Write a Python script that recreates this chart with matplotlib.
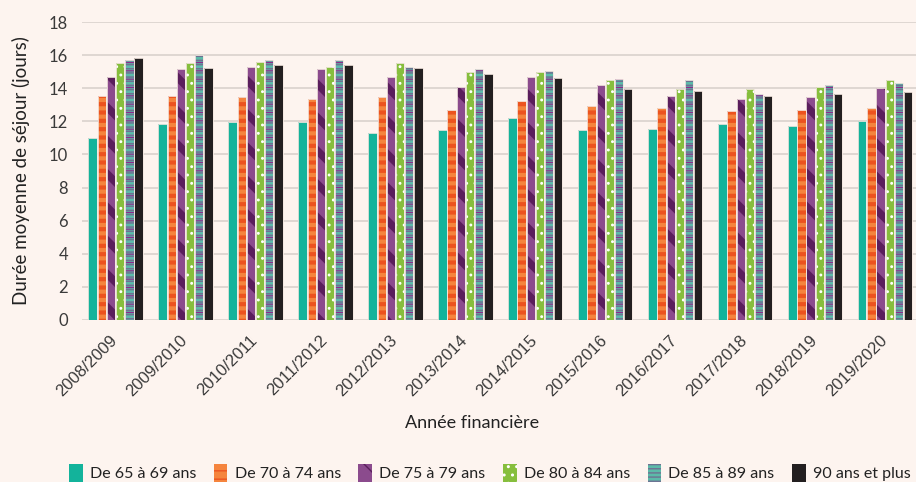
import matplotlib as mpl
import matplotlib.pyplot as plt
import matplotlib.transforms as mtransforms
import numpy as np
from matplotlib.patches import Patch

years = ["2008/2009", "2009/2010", "2010/2011", "2011/2012", "2012/2013",
         "2013/2014", "2014/2015", "2015/2016", "2016/2017", "2017/2018",
         "2018/2019", "2019/2020"]
groups = ["De 65 à 69 ans", "De 70 à 74 ans", "De 75 à 79 ans",
          "De 80 à 84 ans", "De 85 à 89 ans", "90 ans et plus"]

age_65_69 = [11.0, 11.85, 11.95, 11.95, 11.3, 11.5, 12.2, 11.5, 11.55, 11.85, 11.7, 12.05]
age_70_74 = [13.55, 13.55, 13.45, 13.35, 13.45, 12.7, 13.2, 12.9, 12.8, 12.6, 12.7, 12.8]
age_75_79 = [14.65, 15.15, 15.3, 15.15, 14.65, 14.1, 14.65, 14.2, 13.55, 13.35, 13.45, 14.0]
age_80_84 = [15.5, 15.5, 15.6, 15.3, 15.5, 14.95, 14.95, 14.5, 13.95, 13.95, 14.1, 14.5]
age_85_89 = [15.7, 16.0, 15.7, 15.7, 15.3, 15.15, 15.05, 14.55, 14.5, 13.65, 14.2, 14.3]
age_90p = [15.8, 15.2, 15.4, 15.4, 15.2, 14.85, 14.6, 13.95, 13.85, 13.55, 13.65, 13.75]

series = [age_65_69, age_70_74, age_75_79, age_80_84, age_85_89, age_90p]

bg = "#fdf4ef"
txt = "#3a3a3a"

# (face, hatch, hatch colour, hatch width) per layer, one list per age group
styles = [
    [("#13b39b", None, None, 0)],
    [("#f5843d", "--", "#ec531f", 3.0)],
    [("#8b4b8d", "\\", "#5a1e5c", 5.5)],
    [("#86be3d", "..", "#ffffff", 0.9)],
    [("#5cbaa9", "----", "#6e7192", 1.1), ("none", "--", "#902a8c", 0.9)],
    [("#231f20", None, None, 0)],
]


def make_bar(ax, x, h, w, face, hatch, hcol, hlw):
    with mpl.rc_context({"hatch.linewidth": hlw if hlw else 1.0}):
        bars = ax.bar(x, h, w, color=face, edgecolor=hcol if hcol else face,
                      hatch=hatch, linewidth=0, zorder=3)
    for b in bars:
        if hasattr(b, "set_hatch_linewidth") and hlw:
            b.set_hatch_linewidth(hlw)
    return bars


fig = plt.figure(figsize=(9.16, 4.82), dpi=100, facecolor=bg)
ax = fig.add_axes([82 / 916, 1 - 320 / 482, 834 / 916, 298 / 482])
ax.set_facecolor(bg)

x = np.arange(len(years))
pitch = 0.131
width = 0.12
for i, vals in enumerate(series):
    pos = x + (i - 2.5) * pitch
    for face, hatch, hcol, hlw in styles[i]:
        make_bar(ax, pos, vals, width, face, hatch, hcol, hlw)
    ax.bar(pos, vals, width, fill=False, edgecolor="#f3e6df", linewidth=0.6, zorder=4)

ax.set_xlim(-0.48, 11.44)
ax.set_ylim(0, 18)
ax.set_yticks(range(0, 19, 2))
ax.grid(axis="y", color="#dcd4cf", linewidth=1.3, zorder=0)
for s in ax.spines.values():
    s.set_visible(False)
ax.tick_params(length=0, colors=txt)
ax.tick_params(axis="y", pad=10, labelsize=12)
for lab in ax.get_yticklabels():
    lab.set_family("Lato")

ax.set_xticks(x)
ax.set_xticklabels(years, rotation=45, ha="right", rotation_mode="anchor",
                   fontsize=12, family="Liberation Sans", color=txt)
ax.tick_params(axis="x", pad=9)
shift = mtransforms.ScaledTranslation(-6 / 100, 0, fig.dpi_scale_trans)
for lab in ax.get_xticklabels():
    lab.set_transform(lab.get_transform() + shift)

ax.set_ylabel("Durée moyenne de séjour (jours)", fontsize=13.5, family="Lato", color="#222222")
ax.yaxis.set_label_coords(-0.062, 0.5)
ax.set_xlabel("Année financière", fontsize=13, family="Lato", color="#222222")
ax.xaxis.set_label_coords(0.468, -0.318)

# legend
handles = []
for i in range(len(groups)):
    face, hatch, hcol, hlw = styles[i][0]
    with mpl.rc_context({"hatch.linewidth": hlw if hlw else 1.0}):
        p = Patch(facecolor=face, edgecolor=hcol if hcol else face, hatch=hatch, linewidth=0)
    if hasattr(p, "set_hatch_linewidth") and hlw:
        p.set_hatch_linewidth(hlw)
    handles.append(p)

leg = fig.legend(handles, groups, loc="lower left", bbox_to_anchor=(62 / 916, -0.014),
                 ncol=6, frameon=False, fontsize=11.5, handlelength=0.85, handleheight=1.3,
                 handletextpad=0.45, columnspacing=1.1, borderaxespad=0.05)
for t in leg.get_texts():
    t.set_family("Lato")
    t.set_color("#222222")

fig.savefig("out.png", dpi=100, facecolor=bg)
